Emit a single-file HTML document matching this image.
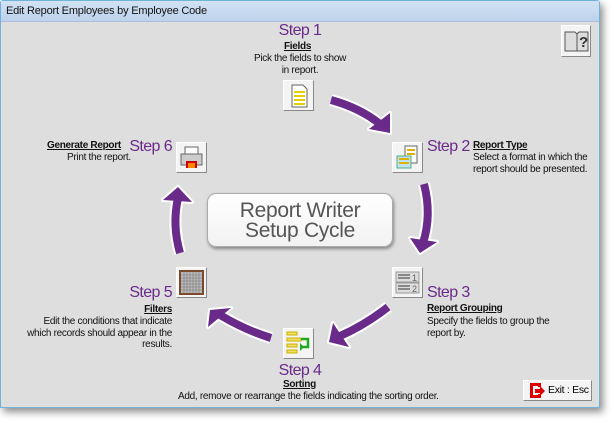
<!DOCTYPE html>
<html><head><style>
html,body{margin:0;padding:0;width:615px;height:423px;background:#fff;overflow:hidden;font-family:"Liberation Sans",sans-serif}
#win{position:absolute;left:0;top:0;width:598px;height:406px;border:1px solid #6fb4d8;background:#dedede;box-shadow:3px 4px 8px rgba(0,0,0,.45);border-radius:3px 3px 0 0}
#title{position:absolute;left:0;top:0;width:598px;height:21px;background:linear-gradient(#d3e2f4,#bcd2ec);border-bottom:1px solid #aebfd6;font-size:11px;line-height:21px;padding-left:5px;box-sizing:border-box;color:#111;letter-spacing:-0.2px}
.t{position:absolute;font-size:10px;color:#111;white-space:nowrap;letter-spacing:-0.3px;line-height:11.5px}
.h{font-weight:bold;text-decoration:underline}
.s{position:absolute;font-size:16px;color:#6a2a8a;white-space:nowrap;line-height:18px;letter-spacing:-0.6px;width:60px}
.ic{position:absolute;width:31px;height:31px;background:#f4f4f4;border:1px solid #fff;border-right-color:#888;border-bottom-color:#888;box-sizing:border-box}
#box{position:absolute;left:207px;top:193px;width:186px;height:54px;background:linear-gradient(#fff,#f2f2f2);border:1px solid #aaa;border-radius:9px;box-shadow:1px 2px 3px rgba(0,0,0,.4);text-align:center;font-size:21px;color:#555;line-height:20px;padding-top:7px;box-sizing:border-box;letter-spacing:-0.3px}
</style></head><body>
<div id="win">
<div id="title">Edit Report Employees by Employee Code</div>
</div>
<svg width="615" height="423" style="position:absolute;left:0;top:0">
<g fill="none" stroke-linecap="butt">
<path d="M331 100 Q360 108 380 124" stroke="#fff" stroke-width="12"/>
<path d="M424 184 Q432 215 423 243" stroke="#fff" stroke-width="12"/>
<path d="M388 307 Q365 325 340 336" stroke="#fff" stroke-width="12"/>
<path d="M271 338 Q245 330 220 315" stroke="#fff" stroke-width="12"/>
<path d="M180 253 Q172 225 178 198" stroke="#fff" stroke-width="12"/>
</g>
<g fill="#fff" stroke="#fff" stroke-width="4" stroke-linejoin="round">
<polygon points="390,113 390,133 369,129"/>
<polygon points="410,238 437,242 420,253"/>
<polygon points="333,323 349,347 329,342"/>
<polygon points="208,327 210,310 231,308"/>
<polygon points="163,200 178,187 192,202"/>
</g>
<g fill="none" stroke="#6a2a8a" stroke-width="8">
<path d="M331 100 Q360 108 380 124"/>
<path d="M424 184 Q432 215 423 243"/>
<path d="M388 307 Q365 325 340 336"/>
<path d="M271 338 Q245 330 220 315"/>
<path d="M180 253 Q172 225 178 198"/>
</g>
<g fill="#6a2a8a">
<polygon points="390,113 390,133 369,129"/>
<polygon points="410,238 437,242 420,253"/>
<polygon points="333,323 349,347 329,342"/>
<polygon points="208,327 210,310 231,308"/>
<polygon points="163,200 178,187 192,202"/>
</g>
</svg>

<div class="s" style="left:270px;top:22px;text-align:center">Step 1</div>
<div class="t h" style="left:284px;top:41px">Fields</div>
<div class="t" style="left:250px;top:53px;width:100px;text-align:center;white-space:normal">Pick the fields to show in report.</div>
<div class="ic" style="left:283px;top:80px"><svg width="29" height="29"><path d="M8 4h11l4 4v18H8z" fill="#fff" stroke="#666"/><g stroke="#e8d000" stroke-width="2"><path d="M10 11h11M10 15h11M10 19h11M10 23h11"/></g></svg></div>

<div class="ic" style="left:392px;top:142px"><svg width="29" height="29"><path d="M12 3h12v17H12z" fill="#fff" stroke="#666"/><path d="M4 13h14v12H4z" fill="#bfe3ea" stroke="#5a8"/><g stroke="#e0b000" stroke-width="2"><path d="M6 16h10M6 20h10M14 7h8M14 11h8"/></g></svg></div>
<div class="s" style="left:427px;top:138px">Step 2</div>
<div class="t h" style="left:473px;top:140px">Report Type</div>
<div class="t" style="left:473px;top:152px">Select a format in which the<br>report should be presented.</div>

<div class="ic" style="left:176px;top:142px"><svg width="29" height="29"><rect x="8" y="4" width="13" height="8" fill="#fff" stroke="#666"/><rect x="4" y="11" width="21" height="11" fill="#ccc" stroke="#666"/><rect x="9" y="18" width="11" height="7" fill="#c00"/><rect x="11" y="20" width="7" height="5" fill="#f80"/></svg></div>
<div class="s" style="left:112px;top:138px;text-align:right">Step 6</div>
<div class="t h" style="left:47px;top:140px">Generate Report</div>
<div class="t" style="left:67px;top:152px">Print the report.</div>

<div id="box">Report Writer<br>Setup Cycle</div>

<div class="ic" style="left:392px;top:267px"><svg width="29" height="29"><rect x="3" y="4" width="23" height="10" fill="#ddd" stroke="#999"/><rect x="3" y="15" width="23" height="10" fill="#ddd" stroke="#999"/><path d="M5 7h12M5 10h12M5 18h12M5 21h12" stroke="#888" stroke-width="2"/><text x="19" y="13" font-size="9" fill="#666">1</text><text x="19" y="24" font-size="9" fill="#666">2</text></svg></div>
<div class="s" style="left:427px;top:284px">Step 3</div>
<div class="t h" style="left:427px;top:303px">Report Grouping</div>
<div class="t" style="left:427px;top:316px">Specify the fields to group the<br>report by.</div>

<div class="ic" style="left:176px;top:267px"><svg width="29" height="29"><rect x="3" y="3" width="23" height="23" fill="#bbb" stroke="#7a4a2a" stroke-width="2"/><g stroke="#888" stroke-width="0.8"><path d="M7 4v21M10 4v21M13 4v21M16 4v21M19 4v21M22 4v21M4 7h21M4 10h21M4 13h21M4 16h21M4 19h21M4 22h21"/></g></svg></div>
<div class="s" style="left:112px;top:284px;text-align:right">Step 5</div>
<div class="t h" style="left:122px;top:304px;width:50px;text-align:right">Filters</div>
<div class="t" style="left:22px;top:316px;width:150px;text-align:right">Edit the conditions that indicate<br>which records should appear in the<br>results.</div>

<div class="ic" style="left:283px;top:328px"><svg width="29" height="29"><g stroke="#c8b000" fill="#f4e060"><rect x="3" y="3" width="10" height="3"/><rect x="3" y="9" width="14" height="3"/><rect x="3" y="15" width="10" height="3"/><rect x="3" y="21" width="10" height="3"/></g><path d="M17 10h7v8h-7" fill="none" stroke="#2a2" stroke-width="2.5"/><path d="M16 14l4 4-4 4z" fill="#2a2"/></svg></div>
<div class="s" style="left:270px;top:362px;text-align:center">Step 4</div>
<div class="t h" style="left:283px;top:379px">Sorting</div>
<div class="t" style="left:178px;top:391px">Add, remove or rearrange the fields indicating the sorting order.</div>

<div class="ic" style="left:561px;top:25px;width:30px;height:32px"><svg width="28" height="30"><path d="M3 6h10l2 2 2-2h9v19H3z" fill="#ddd" stroke="#555"/><path d="M15 8v17" stroke="#555"/><text x="17" y="21" font-size="15" font-weight="bold" fill="#333">?</text></svg></div>
<div class="ic" style="left:523px;top:380px;width:69px;height:21px"><svg width="20" height="19" style="position:absolute;left:4px;top:0"><path d="M2 2h11v4h-3V5H5v9h5v-1h3v4H2z" fill="#d00"/><path d="M7 8h5V5l5 5-5 5v-3H7z" fill="#d00"/></svg><span style="position:absolute;left:24px;top:3px;font-size:10.5px;letter-spacing:-0.3px">Exit : Esc</span></div>
</body></html>
